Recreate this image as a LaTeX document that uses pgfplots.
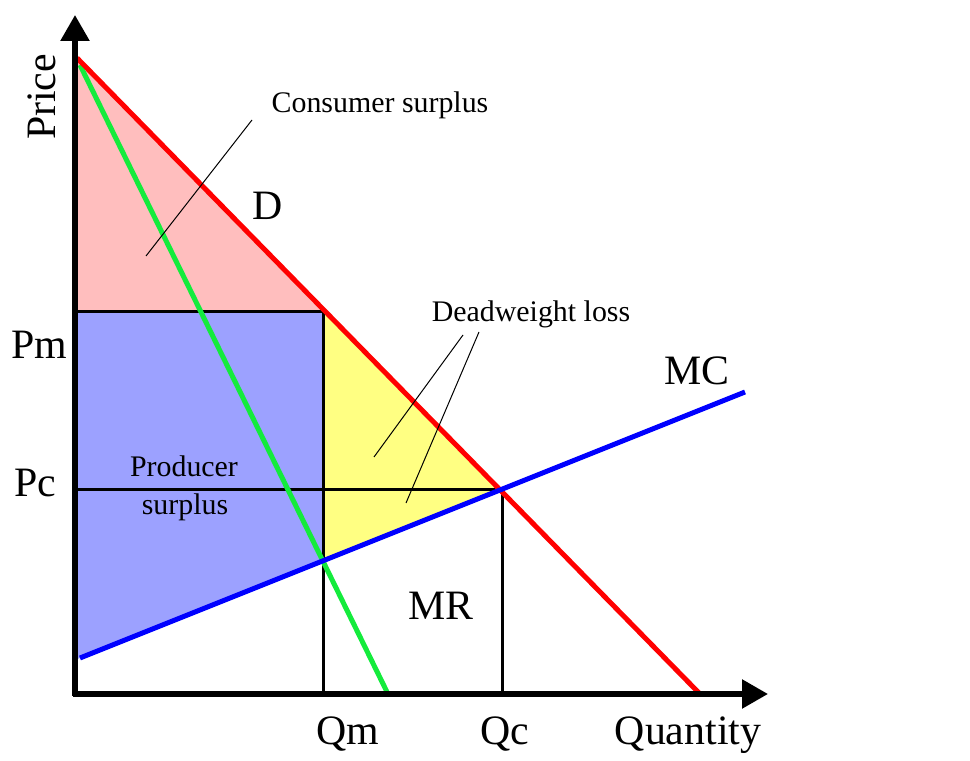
\documentclass[border=0pt]{standalone}
\usepackage{fontspec}
\setmainfont{Liberation Serif}
\usepackage{pgfplots}
\pgfplotsset{compat=1.18}
\usetikzlibrary{arrows.meta}

\definecolor{cspink}{RGB}{255,190,190}
\definecolor{psblue}{RGB}{156,161,255}
\definecolor{dwyellow}{RGB}{255,255,130}
\definecolor{mrgreen}{RGB}{20,235,60}

\newcommand{\bigfont}{\fontsize{42}{46}\selectfont}
\newcommand{\labfont}{\fontsize{30}{34}\selectfont}

\begin{document}
\begin{tikzpicture}
\begin{axis}[
  x=1bp, y=1bp,
  xmin=-75, xmax=895, ymin=-67, ymax=694,
  hide axis, clip=false,
]
% whole picture frame (invisible)
\path (axis cs:-75,-67) rectangle (axis cs:895,694);
% areas
\addplot[fill=cspink, draw=none] coordinates {(0,636) (248,382) (0,382)} -- cycle;
\addplot[fill=psblue, draw=none] coordinates {(0,382) (248,382) (248,133) (0,34)} -- cycle;
\addplot[fill=dwyellow, draw=none] coordinates {(248,382) (427,204) (248,133)} -- cycle;
% price / quantity guides
\addplot[black, line width=3bp] coordinates {(0,382) (248,382) (248,0)};
\addplot[black, line width=3bp] coordinates {(0,204) (427,204) (427,0)};
% curves
\addplot[mrgreen, line width=5bp] coordinates {(5,629) (313,0)};
\addplot[red, line width=5bp] coordinates {(2,636) (625,0)};
\addplot[blue, line width=5bp] coordinates {(5,36) (670,302)};
% axes
\addplot[black, line width=5.5bp, -{Triangle[length=26bp,width=28bp]}] coordinates {(0,-2) (0,679)};
\addplot[black, line width=5.5bp, -{Triangle[length=26bp,width=28bp]}] coordinates {(-2,0) (693,0)};
% leader lines
\addplot[black, line width=1bp] coordinates {(177,574) (71,438)};
\addplot[black, line width=1bp] coordinates {(388,359) (299,237)};
\addplot[black, line width=1bp] coordinates {(404,362) (331,191)};
% labels
\node[anchor=base, font=\labfont] at (axis cs:305,581) {Consumer surplus};
\node[anchor=base, font=\labfont] at (axis cs:456,372) {Deadweight loss};
\node[anchor=base, font=\labfont] at (axis cs:109,217) {Producer};
\node[anchor=base, font=\labfont] at (axis cs:110,179) {surplus};
\node[anchor=base, font=\bigfont] at (axis cs:193,474) {D};
\node[anchor=base, font=\bigfont] at (axis cs:622,309) {MC};
\node[anchor=base, font=\bigfont] at (axis cs:366,74) {MR};
\node[anchor=base, font=\bigfont] at (axis cs:-36,335) {Pm};
\node[anchor=base, font=\bigfont] at (axis cs:-40,197) {Pc};
\node[anchor=base, font=\bigfont] at (axis cs:273,-51) {Qm};
\node[anchor=base, font=\bigfont] at (axis cs:430,-51) {Qc};
\node[anchor=base, font=\bigfont] at (axis cs:613,-51) {Quantity};
\node[anchor=base, rotate=90, font=\bigfont] at (axis cs:-20,597) {Price};
\end{axis}
\end{tikzpicture}
\end{document}
